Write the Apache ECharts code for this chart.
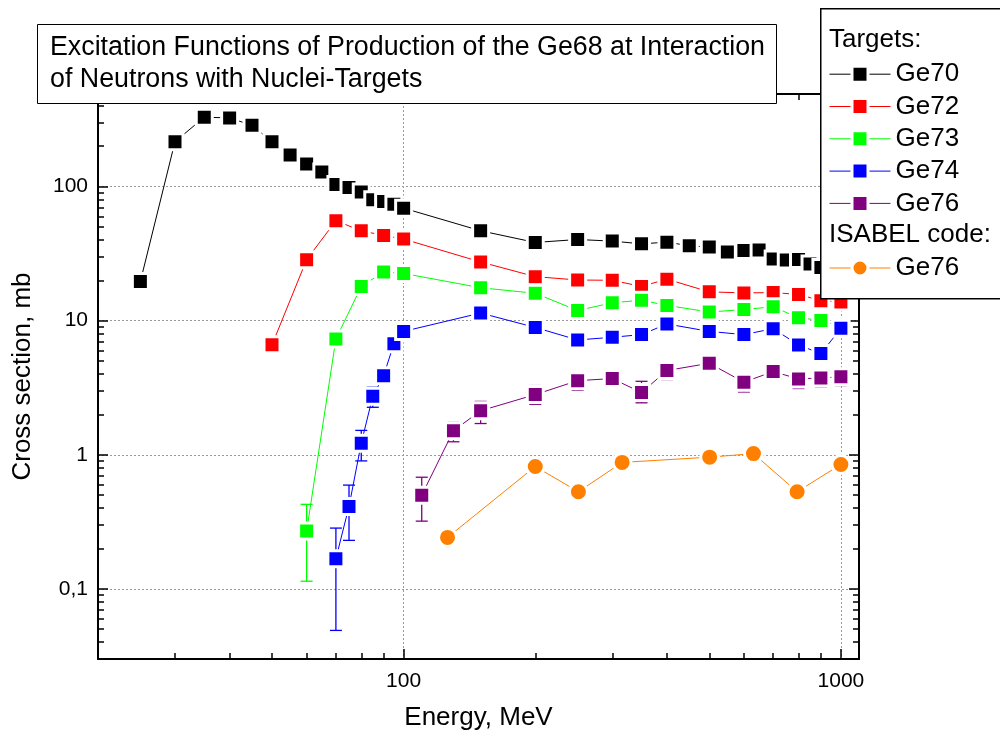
<!DOCTYPE html>
<html>
<head>
<meta charset="utf-8">
<script src="https://cdn.jsdelivr.net/npm/echarts@6/dist/echarts.min.js"></script>
<style>
html,body{margin:0;padding:0;background:#fff;}
#chart{width:1000px;height:740px;}
</style>
</head>
<body>
<div id="chart"></div>
<script>
// ---- data (energy in MeV, cross section in mb) ----
const ge70X = [25,30,35,40,45,50,55,60,65,70,75,80,85,90,95,100,150,200,250,300,350,400,450,500,550,600,650,700,750,800,850,900,1000];
const ge70Y = [19.6,216,329,325,286,216,172,147.6,128.6,103.5,98.3,90.9,79.6,77.3,73.9,69,46.8,38.3,40.3,39.2,37.4,38.5,36.2,35.4,32.5,33.4,33.6,28.8,28.3,28.6,26.5,24.9,24];

const ge72X = [50,60,70,80,90,100,150,200,250,300,350,400,500,600,700,800,900,1000];
const ge72Y = [6.6,28.5,55.6,46.8,43.2,40.6,27.4,21.3,20.1,20.0,18.0,20.4,16.4,16.1,16.2,15.7,14.1,13.8];
const ge72Err = [[50,5.9,7.3]];

const ge73X = [60,70,80,90,100,150,200,250,300,350,400,500,600,700,800,900,1000];
const ge73Y = [0.27,7.3,18.0,23.1,22.5,17.6,16.0,11.9,13.6,14.2,13.0,11.6,12.1,12.7,10.5,10.05,9.07];
const ge73Err = [[60,0.114,0.427]];

const ge74X = [70,75,80,85,90,95,100,150,200,250,300,350,400,500,600,700,800,900,1000];
const ge74Y = [0.168,0.412,1.22,2.73,3.89,6.74,8.32,11.4,8.9,7.18,7.52,7.87,9.45,8.32,7.87,8.72,6.59,5.68,8.77];
const ge74Err = [[70,0.049,0.284],[75,0.23,0.594],[80,0.90,1.52],[85,2.26,3.19],[90,3.36,4.36],[900,5.3,6.05]];

const ge76X = [110,130,150,200,250,300,350,400,500,600,700,800,900,1000];
const ge76Y = [0.5,1.51,2.13,2.81,3.57,3.70,2.91,4.25,4.81,3.48,4.17,3.68,3.74,3.81];
const ge76Err = [[110,0.32,0.68],[130,1.25,1.75],[150,1.71,2.5],[200,2.38,3.28],[250,3.03,4.03],[300,3.23,4.19],[350,2.44,3.53],[400,3.64,4.76],[500,4.19,5.42],[600,2.94,4.01],[700,3.59,4.73],[800,3.12,4.17],[900,3.21,4.27],[1000,3.28,4.31]];

const isabelX = [126,200,251,316,501,631,794,1000];
const isabelY = [0.242,0.818,0.53,0.877,0.96,1.02,0.53,0.847];

const xMajorTicks = [100,1000];
const xMinorTicks = [30,40,50,60,70,80,90,200,300,400,500,600,700,800,900];
const yMajorTicks = [0.1,1,10,100];
const yMinorTicks = [0.03,0.04,0.05,0.06,0.07,0.08,0.09,0.2,0.3,0.4,0.5,0.6,0.7,0.8,0.9,2,3,4,5,6,7,8,9,20,30,40,50,60,70,80,90,200,300,400];

const titleText = 'Excitation Functions of Production of the Ge68 at Interaction\nof Neutrons with Nuclei-Targets';

// ---- chart ----
const FONT = "'Liberation Sans', Arial, sans-serif";
const chart = echarts.init(document.getElementById('chart'), null, {renderer: 'canvas'});
const zip = (xs, ys) => xs.map((x, i) => [x, ys[i]]);

function errRender(color) {
  return function (params, api) {
    const x = api.value(0);
    const lo = api.coord([x, api.value(1)]);
    const hi = api.coord([x, api.value(2)]);
    const w = 6;
    const st = {stroke: color, lineWidth: 1.3};
    return {type: 'group', children: [
      {type: 'line', shape: {x1: lo[0], y1: lo[1], x2: hi[0], y2: hi[1]}, style: st},
      {type: 'line', shape: {x1: lo[0] - w, y1: lo[1], x2: lo[0] + w, y2: lo[1]}, style: st},
      {type: 'line', shape: {x1: hi[0] - w, y1: hi[1], x2: hi[0] + w, y2: hi[1]}, style: st}
    ]};
  };
}
function errSeries(name, data, color) {
  return {type: 'custom', name: name, data: data, renderItem: errRender(color),
    encode: {x: 0, y: [1, 2]}, z: 1, silent: true};
}
function lineSeries(name, data, color, symbol, size) {
  return {type: 'line', name: name, data: data, symbol: symbol || 'rect', symbolSize: size || 16,
    showSymbol: true, showAllSymbol: true, z: 3,
    lineStyle: {color: color, width: 1},
    itemStyle: {color: color, borderColor: '#fff', borderWidth: 3}};
}

const axisLineStyle = {show: true, lineStyle: {color: '#000', width: 2}};
function xAxisDef(pos, major, withLabel) {
  return {
    type: 'log', logBase: 10, min: 20, max: 1100, position: pos, gridIndex: 0,
    axisLine: major ? axisLineStyle : {show: false},
    axisTick: {show: true, inside: true, length: major ? 10 : 6,
      customValues: major ? xMajorTicks : xMinorTicks,
      lineStyle: {color: '#000', width: 1.5}},
    axisLabel: withLabel ? {show: true, customValues: xMajorTicks, color: '#000',
      fontSize: 21, fontFamily: FONT, margin: 12, formatter: v => String(v)} : {show: false},
    splitLine: (withLabel) ? {show: true, lineStyle: {color: '#999', type: [2, 2], width: 1}} : {show: false},
    name: withLabel ? 'Energy, MeV' : '', nameLocation: 'middle', nameGap: 46,
    nameTextStyle: {fontSize: 26, color: '#000', fontFamily: FONT}
  };
}
function yAxisDef(pos, major, withLabel) {
  return {
    type: 'log', logBase: 10, min: 0.03, max: 490, position: pos, gridIndex: 0,
    axisLine: major ? axisLineStyle : {show: false},
    axisTick: {show: true, inside: true, length: major ? 10 : 6,
      customValues: major ? yMajorTicks : yMinorTicks,
      lineStyle: {color: '#000', width: 1.5}},
    axisLabel: withLabel ? {show: true, customValues: yMajorTicks, color: '#000',
      fontSize: 21, fontFamily: FONT, margin: 10,
      formatter: v => String(v).replace('.', ',')} : {show: false},
    splitLine: (withLabel) ? {show: true, lineStyle: {color: '#999', type: [2, 2], width: 1}} : {show: false},
    name: withLabel ? 'Cross section, mb' : '', nameLocation: 'middle', nameGap: 62,
    nameTextStyle: {fontSize: 26, color: '#000', fontFamily: FONT}
  };
}

const legendText = {fontSize: 26, color: '#000', fontFamily: FONT};

const option = {
  animation: false,
  backgroundColor: '#fff',
  textStyle: {fontFamily: FONT},
  title: {
    text: titleText, left: 37, top: 24,
    padding: [8, 12, 8, 13],
    backgroundColor: '#fff', borderColor: '#000', borderWidth: 1,
    textStyle: {fontSize: 26.8, lineHeight: 32, fontWeight: 'normal', color: '#000', fontFamily: FONT},
    z: 12
  },
  grid: {left: 98, right: 141, top: 94, bottom: 81, containLabel: false},
  xAxis: [xAxisDef('bottom', true, true), xAxisDef('bottom', false, false),
          xAxisDef('top', true, false), xAxisDef('top', false, false)],
  yAxis: [yAxisDef('left', true, true), yAxisDef('left', false, false),
          yAxisDef('right', true, false), yAxisDef('right', false, false)],
  graphic: [
    {type: 'rect', left: 820, top: 8, shape: {width: 200, height: 290}, z: 10,
      style: {fill: '#fff', stroke: '#000', lineWidth: 1.5}},
    {type: 'text', left: 829, top: 27, z: 11,
      style: {text: 'Targets:', fontSize: 26, fontFamily: FONT, fill: '#000'}},
    {type: 'text', left: 829, top: 221.5, z: 11,
      style: {text: 'ISABEL code:', fontSize: 26, fontFamily: FONT, fill: '#000'}}
  ],
  legend: [
    {data: ['Ge70', 'Ge72', 'Ge73', 'Ge74', 'Ge76'], orient: 'vertical', left: 829, top: 61.2,
      itemWidth: 61, itemHeight: 20, itemGap: 6.3, padding: 0, z: 20, selectedMode: false,
      itemStyle: {borderColor: '#fff', borderWidth: 3}, lineStyle: {width: 1},
      textStyle: legendText},
    {data: ['Ge76 (ISABEL)'], orient: 'vertical', left: 829, top: 255,
      itemWidth: 61, itemHeight: 20, padding: 0, z: 20, selectedMode: false,
      itemStyle: {borderColor: '#fff', borderWidth: 3}, lineStyle: {width: 1},
      formatter: () => 'Ge76',
      textStyle: legendText}
  ],
  series: [
    errSeries('e72', ge72Err, '#ff0000'),
    errSeries('e73', ge73Err, '#00ff00'),
    errSeries('e74', ge74Err, '#0000ff'),
    errSeries('e76', ge76Err, '#800080'),
    lineSeries('Ge70', zip(ge70X, ge70Y), '#000000'),
    lineSeries('Ge72', zip(ge72X, ge72Y), '#ff0000'),
    lineSeries('Ge73', zip(ge73X, ge73Y), '#00ff00'),
    lineSeries('Ge74', zip(ge74X, ge74Y), '#0000ff'),
    lineSeries('Ge76', zip(ge76X, ge76Y), '#800080'),
    lineSeries('Ge76 (ISABEL)', zip(isabelX, isabelY), '#ff8000', 'circle', 18)
  ]
};
chart.setOption(option);
</script>
</body>
</html>
